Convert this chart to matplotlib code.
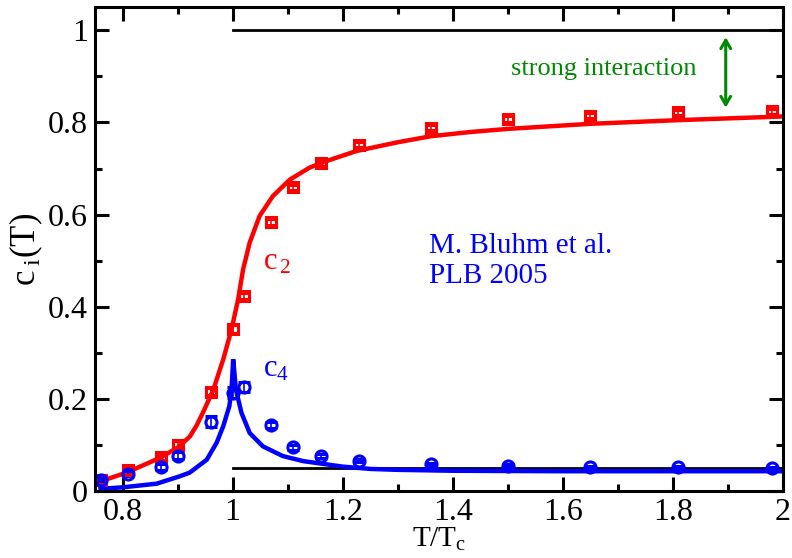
import matplotlib
matplotlib.use("Agg")
import matplotlib.pyplot as plt
from matplotlib.ticker import MultipleLocator, FormatStrFormatter

plt.rcParams['font.family'] = ['Liberation Serif', 'DejaVu Serif']
plt.rcParams['mathtext.fontset'] = 'custom'
plt.rcParams['mathtext.rm'] = 'Liberation Serif'
plt.rcParams['mathtext.it'] = 'Liberation Serif:italic'

# lattice data points
t_lat = [0.76, 0.81, 0.87, 0.90, 0.96, 1.00, 1.02, 1.07, 1.11, 1.16, 1.23, 1.36, 1.50, 1.65, 1.81, 1.98]
c2_lat = [0.023, 0.045, 0.073, 0.101, 0.216, 0.352, 0.423, 0.584, 0.659, 0.711, 0.752, 0.789, 0.807, 0.815, 0.822, 0.824]
c2_err = [0.004, 0.005, 0.006, 0.007, 0.008, 0.008, 0.007, 0.007, 0.006, 0.006, 0.006, 0.006, 0.006, 0.006, 0.006, 0.006]
c4_lat = [0.025, 0.038, 0.052, 0.077, 0.150, 0.213, 0.226, 0.143, 0.095, 0.076, 0.066, 0.058, 0.055, 0.052, 0.052, 0.050]
c4_err = [0.004, 0.006, 0.006, 0.008, 0.012, 0.012, 0.010, 0.006, 0.005, 0.004, 0.004, 0.003, 0.003, 0.003, 0.003, 0.003]

# quasiparticle model curves
t_c2 = [0.76, 0.807, 0.868, 0.901, 0.922, 0.934, 0.946, 0.965, 0.983, 0.998, 1.010, 1.019,
        1.031, 1.049, 1.073, 1.104, 1.140, 1.170, 1.225, 1.30, 1.36, 1.43, 1.50, 1.65, 1.81, 2.0]
c2_fit = [0.021, 0.040, 0.072, 0.095, 0.118, 0.141, 0.170, 0.220, 0.286, 0.351, 0.416, 0.481,
          0.539, 0.597, 0.640, 0.676, 0.702, 0.716, 0.738, 0.757, 0.770, 0.779, 0.786, 0.797, 0.805, 0.813]

t_c4 = [0.76, 0.80, 0.862, 0.904, 0.922, 0.953, 0.971, 0.983, 0.994, 0.998, 1.001,
        1.006, 1.016, 1.031, 1.055, 1.091, 1.128, 1.17, 1.20, 1.25, 1.30, 1.40, 1.6, 1.8, 2.0]
c4_fit = [0.005, 0.008, 0.016, 0.032, 0.040, 0.068, 0.105, 0.141, 0.184, 0.220, 0.286,
          0.220, 0.170, 0.126, 0.097, 0.076, 0.065, 0.058, 0.053, 0.048, 0.046, 0.044, 0.043, 0.043, 0.043]

# asymptotic limits above Tc
t_limit = [1.0, 2.0]
c2_limit = [1.0, 1.0]
c4_limit = [0.05, 0.05]

fig = plt.figure(figsize=(7.92, 5.58), dpi=100)
ax = fig.add_axes([0.12, 0.12, 0.8686, 0.867])

ax.plot(t_limit, c2_limit, color='black', lw=2.0)
ax.plot(t_limit, c4_limit, color='black', lw=2.0)

ax.plot(t_c2, c2_fit, color='#ff0000', lw=3.2, solid_joinstyle='round')
ax.plot(t_c4, c4_fit, color='#0000ff', lw=3.2, solid_joinstyle='miter')

ax.errorbar(t_lat, c2_lat, yerr=c2_err, fmt='s', mfc='none', mec='#ff0000', ecolor='#ff0000',
            ms=7.5, mew=2.2, elinewidth=1.2, capsize=4, capthick=1.2)
ax.errorbar(t_lat, c4_lat, yerr=c4_err, fmt='o', mfc='none', mec='#0000ff', ecolor='#0000ff',
            ms=8, mew=2.2, elinewidth=1.2, capsize=4, capthick=1.2)

ax.annotate('', xy=(1.896, 0.985), xytext=(1.896, 0.832),
            arrowprops=dict(arrowstyle='<->,head_length=0.6,head_width=0.35',
                            color='#008800', lw=2.2, shrinkA=0, shrinkB=0))
ax.text(1.675, 0.915, 'strong interaction', color='#008800', fontsize=19,
        ha='center', va='center')

ax.text(1.357, 0.532, 'M. Bluhm et al.', color='#0000ff', fontsize=21, va='center')
ax.text(1.357, 0.466, 'PLB 2005', color='#0000ff', fontsize=21, va='center')

ax.text(1.055, 0.498, r'c$_{\,2}$', color='#ff0000', fontsize=22, va='center')
ax.text(1.055, 0.265, r'c$_{4}$', color='#0000ff', fontsize=22, va='center')

ax.set_xlim(0.75, 2.0)
ax.set_ylim(0.0, 1.05)
ax.xaxis.set_major_locator(MultipleLocator(0.2))
ax.xaxis.set_minor_locator(MultipleLocator(0.1))
ax.yaxis.set_major_locator(MultipleLocator(0.2))
ax.yaxis.set_minor_locator(MultipleLocator(0.1))
ax.xaxis.set_major_formatter(FormatStrFormatter('%g'))
ax.yaxis.set_major_formatter(FormatStrFormatter('%g'))

ax.tick_params(which='both', direction='in', top=True, right=True, width=2.2, labelsize=23)
ax.tick_params(which='major', length=10, pad=5)
ax.tick_params(which='minor', length=5)
for s in ax.spines.values():
    s.set_linewidth(2.2)

ax.set_xlabel(r'T/T$_{\rm c}$', fontsize=21, labelpad=-1)
ax.set_ylabel(r'c$_{\;\rm i}$(T)', fontsize=25, labelpad=2)

fig.savefig('out.png', dpi=100)
